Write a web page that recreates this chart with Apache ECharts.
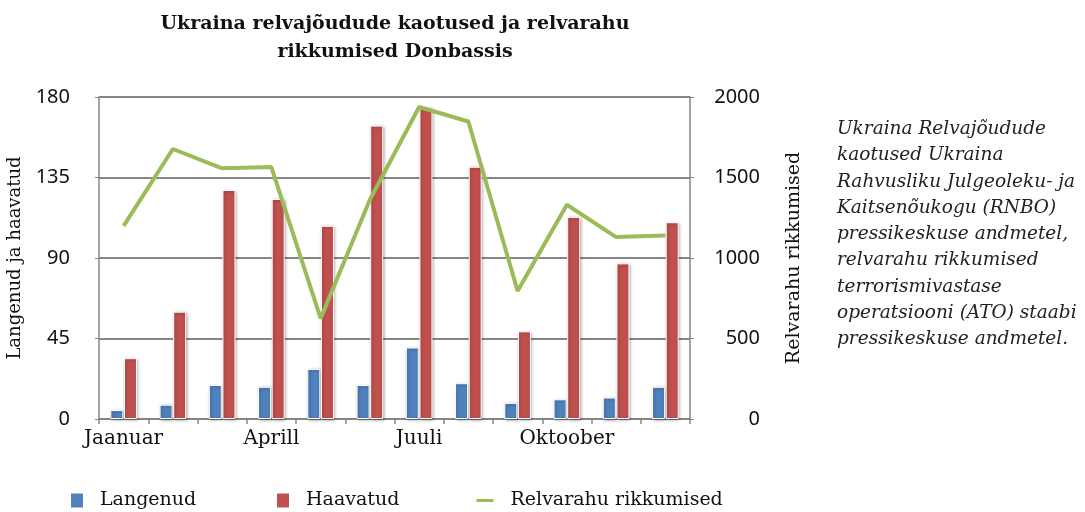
<!DOCTYPE html>
<html>
<head>
<meta charset="utf-8">
<script src="https://cdn.jsdelivr.net/npm/echarts@6/dist/echarts.min.js"></script>
<style>
html,body{margin:0;padding:0;background:#fff;}
#chart{width:1085px;height:512px;}
</style>
</head>
<body>
<div id="chart"></div>
<script>
const categories = ['Jaanuar','Veebruar','Märts','Aprill','Mai','Juuni','Juuli','August','September','Oktoober','November','Detsember'];
const langenud = [5, 8, 19, 18, 28, 19, 40, 20, 9, 11, 12, 18];
const haavatud = [34, 60, 128, 123, 108, 164, 174, 141, 49, 113, 87, 110];
const relvarahu = [1200, 1677, 1557, 1565, 625, 1362, 1938, 1848, 795, 1331, 1130, 1140];
const leftTicks = [0, 45, 90, 135, 180];
const rightTicks = [0, 500, 1000, 1500, 2000];
const noteLines = [
  'Ukraina Relvajõudude',
  'kaotused Ukraina',
  'Rahvusliku Julgeoleku- ja',
  'Kaitsenõukogu (RNBO)',
  'pressikeskuse andmetel,',
  'relvarahu rikkumised',
  'terrorismivastase',
  'operatsiooni (ATO) staabi',
  'pressikeskuse andmetel.'
];

const serif = '"DejaVu Serif", serif';
const sans = '"Noto Sans", sans-serif';
const gridColor = '#868686';

const chart = echarts.init(document.getElementById('chart'));
const legendText = {fontFamily: serif, fontSize: 19, color: '#111', padding: [0, 0, 0, 12]};
const flatIcon = {borderWidth: 0, shadowBlur: 0, shadowOffsetX: 0, shadowOffsetY: 0};
chart.setOption({
  animation: false,
  backgroundColor: '#fff',
  title: {
    text: 'Ukraina relvajõudude kaotused ja relvarahu\nrikkumised Donbassis',
    left: 390, top: 5, textAlign: 'center',
    textStyle: {fontFamily: serif, fontWeight: 'bold', fontSize: 19, lineHeight: 28, color: '#111'}
  },
  legend: [
    {data: ['Langenud'], left: 66, top: 486, itemWidth: 12, itemHeight: 14, icon: 'rect', itemStyle: flatIcon, textStyle: legendText},
    {data: ['Haavatud'], left: 272, top: 486, itemWidth: 12, itemHeight: 14, icon: 'rect', itemStyle: flatIcon, textStyle: legendText},
    {data: ['Relvarahu rikkumised'], left: 470, top: 486, itemWidth: 17, itemHeight: 14, textStyle: legendText,
     itemStyle: {opacity: 0}, lineStyle: {width: 3}}
  ],
  grid: {left: 99, right: 395, top: 97, bottom: 93, containLabel: false, outerBoundsMode: 'none'},
  xAxis: {
    type: 'category',
    data: categories,
    axisLine: {show: true, lineStyle: {color: gridColor, width: 2}},
    axisTick: {show: true, interval: 0, length: 5, lineStyle: {color: gridColor, width: 1.5}},
    axisLabel: {interval: 2, margin: 10, fontFamily: serif, fontSize: 20, color: '#111'}
  },
  yAxis: [
    {
      type: 'value', min: leftTicks[0], max: leftTicks[leftTicks.length - 1], interval: 45,
      name: 'Langenud ja haavatud', nameLocation: 'middle', nameGap: 72, nameRotate: 90,
      nameTextStyle: {fontFamily: serif, fontSize: 18, color: '#111'},
      axisLine: {show: true, lineStyle: {color: gridColor, width: 1.5}},
      axisTick: {show: true, length: 4, lineStyle: {color: gridColor}},
      axisLabel: {margin: 29, fontFamily: sans, fontSize: 20, color: '#111'},
      splitLine: {show: true, lineStyle: {color: gridColor, width: 2}}
    },
    {
      type: 'value', min: rightTicks[0], max: rightTicks[rightTicks.length - 1], interval: 500,
      position: 'right',
      name: 'Relvarahu rikkumised', nameLocation: 'middle', nameGap: 95, nameRotate: 90,
      nameTextStyle: {fontFamily: serif, fontSize: 19, color: '#111'},
      axisLine: {show: true, lineStyle: {color: gridColor, width: 1.5}},
      axisTick: {show: true, length: 4, lineStyle: {color: gridColor}},
      axisLabel: {margin: 70, align: 'right', fontFamily: sans, fontSize: 20, color: '#111',
                  formatter: function (v) { return String(v); }},
      splitLine: {show: false}
    }
  ],
  series: [
    {
      name: 'Langenud', type: 'bar', data: langenud, barWidth: 13, barGap: '5%',
      itemStyle: {color: '#4F81BD', borderColor: '#fff', borderWidth: 1, shadowBlur: 3, shadowColor: 'rgba(0,0,0,0.35)', shadowOffsetX: 1, shadowOffsetY: 1}
    },
    {
      name: 'Haavatud', type: 'bar', data: haavatud, barWidth: 13,
      itemStyle: {color: '#C0504D', borderColor: '#fff', borderWidth: 1, shadowBlur: 3, shadowColor: 'rgba(0,0,0,0.35)', shadowOffsetX: 1, shadowOffsetY: 1}
    },
    {
      name: 'Relvarahu rikkumised', type: 'line', yAxisIndex: 1, data: relvarahu,
      symbol: 'none', showSymbol: false,
      lineStyle: {color: '#9BBB59', width: 4},
      itemStyle: {color: '#9BBB59'}
    }
  ],
  graphic: [{
    type: 'text', x: 837, y: 116,
    style: {
      text: noteLines.join('\n'),
      font: 'italic 18.5px "DejaVu Serif", serif',
      lineHeight: 26.3,
      fill: '#222'
    }
  }]
});
</script>
</body>
</html>
